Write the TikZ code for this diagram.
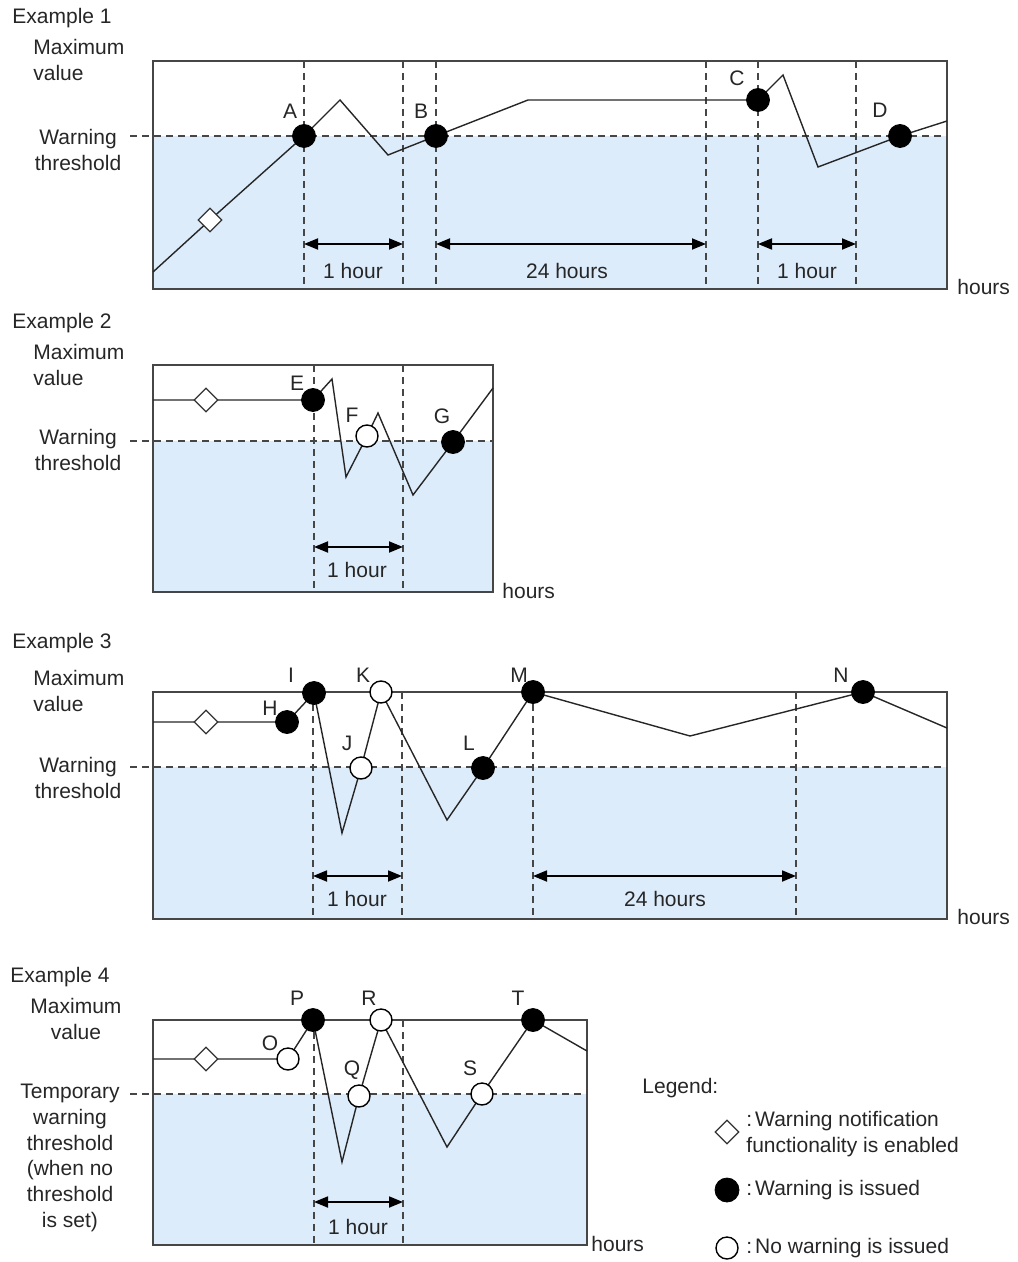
\documentclass[tikz,border=0pt]{standalone}
\usepackage{fontspec}
\setmainfont{Liberation Sans}
\usetikzlibrary{arrows.meta,shapes.geometric,positioning}
\definecolor{zonefill}{RGB}{221,236,251}
\definecolor{framegray}{RGB}{70,70,70}
\tikzset{
	panel/.style = {draw=framegray, line width=1.1pt}, % outer box of one example
	zone/.style = {fill=zonefill, draw=none}, % area below the threshold
	dashline/.style = {draw=framegray, line width=0.8pt, dash pattern=on 3.5pt off 2.5pt},
	trend/.style = {draw=black!85, line width=0.7pt, line join=miter},
	issued/.style = {circle, fill=black, draw=black, minimum size=11.5pt, inner sep=0pt},
	silent/.style = {circle, fill=white, draw=black, line width=0.7pt, minimum size=11pt, inner sep=0pt},
	enabled/.style = {diamond, fill=white, draw=black!80, line width=0.6pt, minimum size=12pt, inner sep=0pt},
	hourspan/.style = {{Triangle[length=7pt,width=5.5pt]}-{Triangle[length=7pt,width=5.5pt]}, line width=0.9pt},
	txt/.style = {inner sep=0pt, text=black!85}
}

\begin{document}
\begin{tikzpicture}[x=0.5pt, y=-0.5pt, font=\fontsize{10.5}{12.6}\selectfont]
	\useasboundingbox (0,0) rectangle (1017,1262);

	% Example 1
	\fill[zone] (153,136) rectangle (947,289);
	\draw[dashline] (130,136) -- (947,136);
	\foreach \xx in {304,403,436,706,758,856}
		\draw[dashline] (\xx,61) -- (\xx,289);
	\draw[panel] (153,61) rectangle (947,289);
	\draw[trend] (153,272) -- (210,220) -- (304,136) -- (340,100) -- (388,155) -- (436,136)
		-- (528,100) -- (758,100) -- (783,75) -- (818,167) -- (900,136) -- (947,121);
	\draw[hourspan] (304,244) -- (403,244);
	\draw[hourspan] (436,244) -- (706,244);
	\draw[hourspan] (758,244) -- (856,244);
	\node[enabled] (on1) at (210,220) {};
	\node[issued] (A) at (304,136) {};
	\node[issued] (B) at (436,136) {};
	\node[issued] (C) at (758,100) {};
	\node[issued] (D) at (900,136) {};
	\node[txt] (lA) at (290,111) {A};
	\node[txt] (lB) at (421,111) {B};
	\node[txt] (lC) at (737,78) {C};
	\node[txt] (lD) at (880,110) {D};
	\node[txt] (h1a) at (353,271) {1 hour};
	\node[txt] (h1b) at (567,271) {24 hours};
	\node[txt] (h1c) at (807,271) {1 hour};
	\node[txt, anchor=west] (ex1) at (12,18) {Example 1};
	\node[txt, align=left, anchor=west] (max1) at (33,60) {Maximum\\value};
	\node[txt, align=center] (warn1) at (78,150) {Warning\\threshold};
	\node[txt, anchor=west] (hrs1) at (957,287) {hours};

	% Example 2
	\fill[zone] (153,441) rectangle (493,592);
	\draw[dashline] (130,441) -- (493,441);
	\foreach \xx in {314,403}
		\draw[dashline] (\xx,365) -- (\xx,592);
	\draw[panel] (153,365) rectangle (493,592);
	\draw[trend] (153,400) -- (313,400) -- (332,379) -- (346,477) -- (367,436) -- (378,413)
		-- (413,495) -- (453,442) -- (493,388);
	\draw[hourspan] (314,547) -- (403,547);
	\node[enabled] (on2) at (206,400) {};
	\node[issued] (E) at (313,400) {};
	\node[silent] (F) at (367,436) {};
	\node[issued] (G) at (453,442) {};
	\node[txt] (lE) at (297,383) {E};
	\node[txt] (lF) at (352,415) {F};
	\node[txt] (lG) at (442,416) {G};
	\node[txt] (h2) at (357,570) {1 hour};
	\node[txt, anchor=west] (ex2) at (12,323) {Example 2};
	\node[txt, align=left, anchor=west] (max2) at (33,365) {Maximum\\value};
	\node[txt, align=center] (warn2) at (78,450) {Warning\\threshold};
	\node[txt, anchor=west] (hrs2) at (502,591) {hours};

	% Example 3
	\fill[zone] (153,767) rectangle (947,919);
	\draw[dashline] (130,767) -- (947,767);
	\foreach \xx in {313,402,533,796}
		\draw[dashline] (\xx,692) -- (\xx,919);
	\draw[panel] (153,692) rectangle (947,919);
	\draw[trend] (153,722) -- (287,722) -- (314,693) -- (342,833) -- (361,768) -- (381,692)
		-- (447,820) -- (483,768) -- (533,692) -- (690,736) -- (863,692) -- (947,728);
	\draw[hourspan] (313,876) -- (402,876);
	\draw[hourspan] (533,876) -- (796,876);
	\node[enabled] (on3) at (206,722) {};
	\node[issued] (H) at (287,722) {};
	\node[issued] (I) at (314,693) {};
	\node[silent] (J) at (361,768) {};
	\node[silent] (K) at (381,692) {};
	\node[issued] (L) at (483,768) {};
	\node[issued] (M) at (533,692) {};
	\node[issued] (N) at (863,692) {};
	\node[txt] (lH) at (270,708) {H};
	\node[txt] (lI) at (291,675) {I};
	\node[txt] (lJ) at (347,743) {J};
	\node[txt] (lK) at (363,675) {K};
	\node[txt] (lL) at (469,743) {L};
	\node[txt] (lM) at (519,675) {M};
	\node[txt] (lN) at (841,675) {N};
	\node[txt] (h3a) at (357,899) {1 hour};
	\node[txt] (h3b) at (665,899) {24 hours};
	\node[txt, anchor=west] (ex3) at (12,643) {Example 3};
	\node[txt, align=left, anchor=west] (max3) at (33,691) {Maximum\\value};
	\node[txt, align=center] (warn3) at (78,778) {Warning\\threshold};
	\node[txt, anchor=west] (hrs3) at (957,917) {hours};

	% Example 4
	\fill[zone] (153,1094) rectangle (587,1245);
	\draw[dashline] (130,1094) -- (587,1094);
	\foreach \xx in {314,403}
		\draw[dashline] (\xx,1020) -- (\xx,1245);
	\draw[panel] (153,1020) rectangle (587,1245);
	\draw[trend] (153,1059) -- (288,1059) -- (313,1020) -- (342,1162) -- (359,1096) -- (381,1020)
		-- (447,1147) -- (482,1094) -- (533,1020) -- (587,1051);
	\draw[hourspan] (314,1202) -- (403,1202);
	\node[enabled] (on4) at (206,1059) {};
	\node[silent] (O) at (288,1059) {};
	\node[issued] (P) at (313,1020) {};
	\node[silent] (Q) at (359,1096) {};
	\node[silent] (R) at (381,1020) {};
	\node[silent] (S) at (482,1094) {};
	\node[issued] (T) at (533,1020) {};
	\node[txt] (lO) at (270,1043) {O};
	\node[txt] (lP) at (297,998) {P};
	\node[txt] (lQ) at (352,1070) {Q};
	\node[txt] (lR) at (369,998) {R};
	\node[txt] (lS) at (470,1068) {S};
	\node[txt] (lT) at (518,998) {T};
	\node[txt] (h4) at (358,1227) {1 hour};
	\node[txt, anchor=west] (ex4) at (10,977) {Example 4};
	\node[txt, align=center] (max4) at (76,1019) {Maximum\\value};
	\node[txt, align=center, font=\fontsize{10.5}{12.9}\selectfont] (warn4) at (70,1158) {Temporary\\warning\\threshold\\(when no\\threshold\\is set)};
	\node[txt, anchor=west] (hrs4) at (591,1244) {hours};

	% Legend
	\node[txt, anchor=west] (leg) at (642,1088) {Legend:};
	\node[enabled] (keyon) at (727,1132) {};
	\node[txt, align=left, anchor=west] (keyontxt) at (746,1134) {:\kern1.5pt Warning notification\\functionality is enabled};
	\node[issued, minimum size=12pt] (keyis) at (727,1190) {};
	\node[txt, anchor=west] (keyistxt) at (746,1190) {:\kern1.5pt Warning is issued};
	\node[silent] (keyno) at (727,1248) {};
	\node[txt, anchor=west] (keynotxt) at (746,1248) {:\kern1.5pt No warning is issued};
\end{tikzpicture}
\end{document}
